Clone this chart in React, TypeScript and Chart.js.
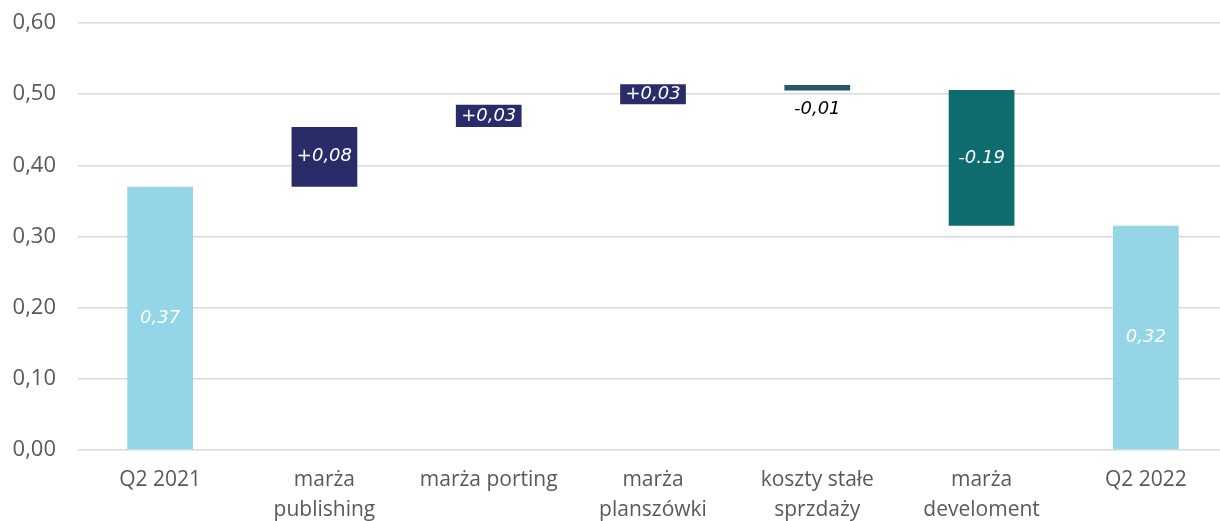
import React, { useEffect, useRef } from "react";
import { Chart, registerables } from "chart.js";

Chart.register(...registerables);

const categories: (string | string[])[] = [
  "Q2 2021",
  ["marża", "publishing"],
  "marża porting",
  ["marża", "planszówki"],
  ["koszty stałe", "sprzdaży"],
  ["marża", "develoment"],
  "Q2 2022",
];
const barStarts = [0, 0.37, 0.454, 0.486, 0.505, 0.315, 0];
const barEnds = [0.37, 0.454, 0.485, 0.514, 0.513, 0.506, 0.315];
const valueLabels = ["0,37", "+0,08", "+0,03", "+0,03", "-0,01", "-0.19", "0,32"];
const barColors = ["#94D6E7", "#2A2C69", "#2A2C69", "#2A2C69", "#23586A", "#0E6C6F", "#94D6E7"];
const labelColors = ["#FFFFFF", "#FFFFFF", "#FFFFFF", "#FFFFFF", "#000000", "#FFFFFF", "#FFFFFF"];
const labelBelow = [false, false, false, false, true, false, false];
const yTicks = [0, 0.1, 0.2, 0.3, 0.4, 0.5, 0.6];

const labelPlugin = {
  id: "valueLabels",
  afterDatasetsDraw(chart: any) {
    const ctx = chart.ctx;
    const meta = chart.getDatasetMeta(0);
    ctx.save();
    ctx.font = "italic 18px 'DejaVu Sans'";
    ctx.textAlign = "center";
    ctx.textBaseline = "middle";
    meta.data.forEach((bar: any, i: number) => {
      const p = bar.getProps(["x", "y", "base"], true);
      const top = Math.min(p.y, p.base);
      const bottom = Math.max(p.y, p.base);
      ctx.fillStyle = labelColors[i];
      const y = labelBelow[i] ? bottom + 19 : (top + bottom) / 2;
      ctx.fillText(valueLabels[i], p.x, y);
    });
    ctx.restore();
  },
};

export default function App() {
  const ref = useRef<HTMLCanvasElement>(null);
  useEffect(() => {
    if (!ref.current) return;
    const chart = new Chart(ref.current, {
      type: "bar",
      data: {
        labels: categories as any,
        datasets: [
          {
            data: barStarts.map((s, i) => [s, barEnds[i]]) as any,
            backgroundColor: barColors,
            borderWidth: 0,
            barPercentage: 0.4,
            categoryPercentage: 1,
          },
        ],
      },
      options: {
        responsive: false,
        animation: false,
        devicePixelRatio: 1,
        layout: { padding: { top: 23, left: 0, right: 0, bottom: 0 } },
        plugins: { legend: { display: false }, tooltip: { enabled: false } },
        scales: {
          x: {
            grid: { display: false, drawTicks: false },
            border: { display: false },
            ticks: {
              color: "#595959",
              font: { family: "'Open Sans'", size: 21, lineHeight: 1.43 },
              padding: 15,
              maxRotation: 0,
              autoSkip: false,
            },
            afterFit(scale: any) {
              scale.height = 71;
              scale.paddingLeft = 0;
              scale.paddingRight = 0;
            },
          },
          y: {
            min: 0,
            max: 0.6,
            grid: { color: "#D9D9D9", lineWidth: 1.5, drawTicks: false },
            border: { display: false },
            afterBuildTicks(scale: any) {
              scale.ticks = yTicks.map((v) => ({ value: v }));
            },
            ticks: {
              color: "#595959",
              font: { family: "'Open Sans'", size: 22 },
              padding: 22,
              callback: (v: any) => Number(v).toFixed(2).replace(".", ","),
            },
            afterFit(scale: any) {
              scale.width = 78;
              scale.paddingTop = 0;
              scale.paddingBottom = 0;
            },
          },
        },
      },
      plugins: [labelPlugin],
    });
    return () => chart.destroy();
  }, []);
  return (
    <div style={{ position: "fixed", left: 0, top: 0, width: 1220, height: 521, overflow: "hidden", background: "#fff" }}>
      <canvas ref={ref} width={1228} height={521} style={{ display: "block", width: 1228, height: 521 }} />
    </div>
  );
}
